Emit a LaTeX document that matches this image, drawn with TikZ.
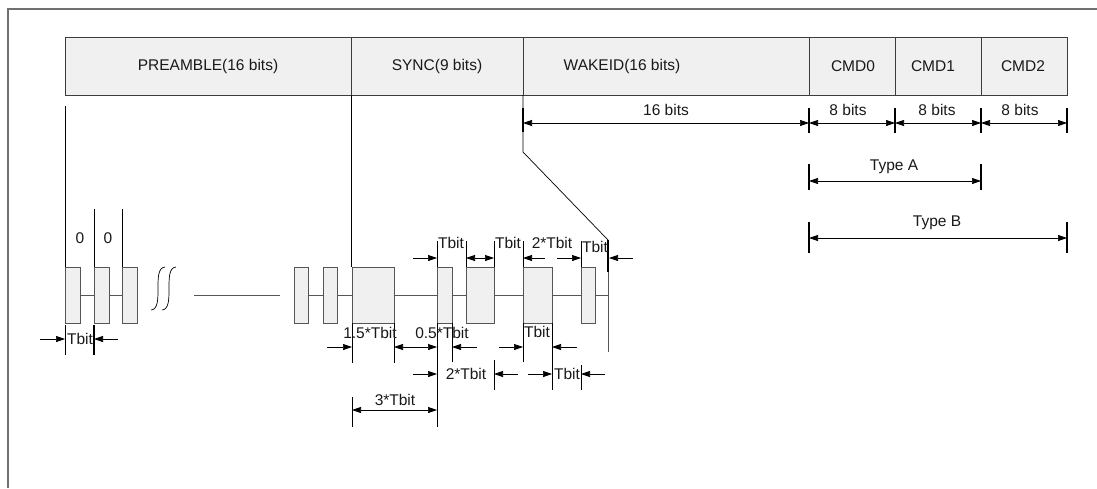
\documentclass[tikz,border=0pt]{standalone}
\usepackage{fontspec}
\setmainfont{Liberation Sans}
\usetikzlibrary{arrows.meta}
\definecolor{fillg}{HTML}{F0F0F0}
\definecolor{edge}{HTML}{3C3C3C}
\definecolor{pedge}{HTML}{555555}
\definecolor{frame}{HTML}{707070}
\begin{document}
\begin{tikzpicture}[x=1pt,y=-1pt,
  font=\fontsize{15.5}{18}\selectfont,
  field/.style={draw=edge, fill=fillg, line width=0.9pt},
  pulse/.style={draw=pedge, fill=fillg, line width=0.9pt},
  wire/.style={draw=pedge, line width=0.9pt},
  refl/.style={draw=black, line width=0.7pt},
  tk/.style={draw=black, line width=0.8pt},
  tkb/.style={draw=black, line width=1.8pt},
  dimarrow/.style={draw=black, line width=0.7pt, {Triangle[length=9pt,width=6pt]}-{Triangle[length=9pt,width=6pt]}},
  inarrow/.style={draw=black, line width=0.7pt, -{Triangle[length=9pt,width=6pt]}},
  lbl/.style={inner sep=0pt, text=black!90}
]
\useasboundingbox (0,0) rectangle (1097,488);
% frame
\draw[frame, line width=1.3pt] (1097,9) -- (8,9) -- (8,488);

% header fields
\path[field] (65,37) rectangle (351,95);
\path[field] (351,37) rectangle (523,95);
\path[field] (523,37) rectangle (809,95);
\path[field] (809,37) rectangle (895,95);
\path[field] (895,37) rectangle (981,95);
\path[field] (981,37) rectangle (1067,95);
\node[lbl] (tpre) at (208,66) {PREAMBLE(16 bits)};
\node[lbl] (tsync) at (437,66) {SYNC(9 bits)};
\node[lbl] (twake) at (622,66) {WAKEID(16 bits)};
\node[lbl] (tc0) at (853,66) {CMD0};
\node[lbl] (tc1) at (933,66) {CMD1};
\node[lbl] (tc2) at (1023,66) {CMD2};

% bit-count dimensions
\draw[tkb] (523,108) -- (523,132);
\foreach \x in {809,895,981,1067} \draw[tkb] (\x,108) -- (\x,133);
\draw[dimarrow] (523,123) -- (809,123);
\draw[dimarrow] (809,123) -- (895,123);
\draw[dimarrow] (895,123) -- (981,123);
\draw[dimarrow] (981,123) -- (1067,123);
\node[lbl] (l16) at (666,110) {16 bits};
\node[lbl] (l8a) at (848,110) {8 bits};
\node[lbl] (l8b) at (937,110) {8 bits};
\node[lbl] (l8c) at (1020,110) {8 bits};

% type A / B
\draw[tkb] (809,164) -- (809,190);
\draw[tkb] (981,164) -- (981,190);
\draw[dimarrow] (809,181) -- (981,181);
\node[lbl] (ta) at (894,167) {Type A};
\draw[tkb] (809,222) -- (809,253);
\draw[tkb] (1067,222) -- (1067,253);
\draw[dimarrow] (809,238) -- (1067,238);
\node[lbl] (tb) at (937,223) {Type B};

% reference lines
\draw[refl] (65,106) -- (65,267);
\draw[refl] (94,209) -- (94,267);
\draw[refl] (122,209) -- (122,267);
\draw[refl] (351,95) -- (351,267);
\draw[refl] (523,95) -- (523,152) -- (608,240);
\draw[wire] (608,272) -- (608,352);
\draw[tkb] (608,240) -- (608,272);

% baseline wires
\foreach \a/\b in {80/94,109/122,194/280,308/323,337/352,394/437,452/466,494/523,552/581,595/608}
  \draw[wire] (\a,295) -- (\b,295);

% squiggle (break)
\draw[black, line width=0.7pt] (151,310) .. controls (165,309) and (151,268) .. (165,267);
\draw[black, line width=0.7pt] (162,310) .. controls (176,309) and (162,268) .. (176,267);

% pulses
\foreach \a/\b in {65/80,94/109,122/137,294/308,323/337,352/394,437/452,466/494,523/552,581/595}
  \path[pulse] (\a,267) rectangle (\b,323);

% "0" labels
\node[lbl] (z1) at (80,238) {0};
\node[lbl] (z2) at (108,238) {0};

% preamble Tbit dimension
\draw[tk] (65,325) -- (65,355);
\draw[tkb] (94,325) -- (94,355);
\draw[inarrow] (40,339) -- (65,339);
\draw[inarrow] (118,339) -- (94,339);
\node[lbl] (pt) at (80,339) {Tbit};

% top dimensions in sync
\foreach \x in {437,466,494,523,581} \draw[tk] (\x,241) -- (\x,267);
\draw[inarrow] (413,258) -- (437,258);
\draw[inarrow] (481,258) -- (466,258);
\draw[inarrow] (480,258) -- (494,258);
\draw[inarrow] (545,258) -- (523,258);
\draw[inarrow] (557,258) -- (581,258);
\draw[inarrow] (633,258) -- (609,258);
\node[lbl] (u1) at (451,243) {Tbit};
\node[lbl] (u2) at (508,243) {Tbit};
\node[lbl] (u3) at (552,243) {2*Tbit};
\node[lbl] (u4) at (595,247) {Tbit};

% bottom dimensions, row 1
\draw[tk] (352,323) -- (352,363);
\draw[tk] (394,323) -- (394,363);
\draw[tk] (437,323) -- (437,427);
\draw[tk] (452,323) -- (452,362);
\draw[tk] (523,323) -- (523,362);
\draw[tk] (552,323) -- (552,390);
\draw[inarrow] (327,347) -- (352,347);
\draw[inarrow] (418,347) -- (394,347);
\draw[inarrow] (413,347) -- (437,347);
\draw[inarrow] (477,347) -- (452,347);
\draw[inarrow] (499,347) -- (523,347);
\draw[inarrow] (577,347) -- (552,347);
\node[lbl] (b1) at (370,333) {1.5*Tbit};
\node[lbl] (b2) at (442,333) {0.5*Tbit};
\node[lbl] (b3) at (537,332) {Tbit};

% row 2
\draw[tk] (494,360) -- (494,390);
\draw[tk] (581,365) -- (581,390);
\draw[inarrow] (413,374) -- (437,374);
\draw[inarrow] (518,374) -- (494,374);
\draw[inarrow] (528,374) -- (552,374);
\draw[inarrow] (605,374) -- (581,374);
\node[lbl] (c1) at (466,374) {2*Tbit};
\node[lbl] (c2) at (567,374) {Tbit};

% row 3
\draw[tk] (352,397) -- (352,427);
\draw[dimarrow] (352,410) -- (437,410);
\node[lbl] (d1) at (395,400) {3*Tbit};
\end{tikzpicture}
\end{document}
